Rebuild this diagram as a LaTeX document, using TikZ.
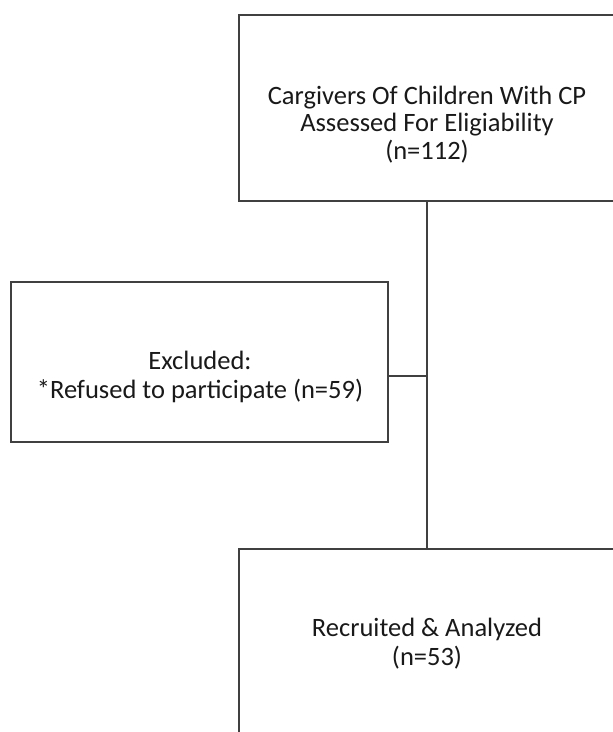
\documentclass[tikz,border=0pt]{standalone}
\usepackage{fontspec}
\setmainfont{Carlito}
\begin{document}
\begin{tikzpicture}[x=1pt,y=-1pt,
  box/.style={draw=black!75,line width=1.8pt,rectangle,inner sep=0pt},
  lbl/.style={anchor=base,inner sep=0pt,font=\fontsize{26.5}{28}\selectfont,text=black!90},
  conn/.style={draw=black!75,line width=1.8pt}]
\useasboundingbox (0,0) rectangle (613,732);
\clip (0,0) rectangle (613,732);
\node[box,minimum width=376pt,minimum height=186pt] (top) at (427,108) {};
\node[box,minimum width=377pt,minimum height=160pt] (left) at (199.5,362) {};
\node[box,minimum width=376pt,minimum height=220pt] (bot) at (427,659) {};
\node[lbl] (t1) at (427,104) {Cargivers Of Children With CP};
\node[lbl] (t2) at (427,131) {Assessed For Eligiability};
\node[lbl] (t3) at (427,159) {(n=112)};
\node[lbl] (l1) at (200,369) {Excluded:};
\node[lbl] (l2) at (200,398) {*Refused to participate (n=59)};
\node[lbl] (b1) at (427,636) {Recruited \& Analyzed};
\node[lbl] (b2) at (427,665) {(n=53)};
\coordinate (j) at (427,376);
\draw[conn] (top.south) -- (bot.north);
\draw[conn] (j) -- (j -| left.east);
\end{tikzpicture}
\end{document}
